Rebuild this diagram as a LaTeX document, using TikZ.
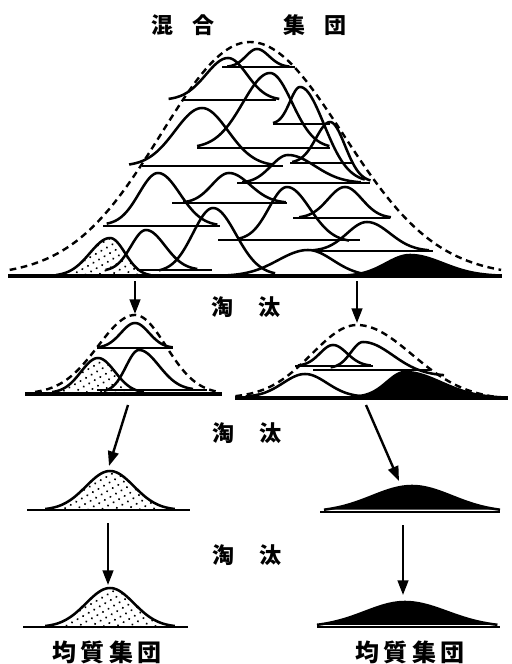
\documentclass[tikz,border=0pt]{standalone}
\usepackage{fontspec}
\newfontfamily\jpfont{Noto Sans CJK JP}
\usetikzlibrary{arrows.meta,patterns.meta}

% bell curve: [style]{centre}{peak}{left base}{left sigma}{right base}{right sigma}
\newcommand{\bellcurve}[7][curve]{%
  \path[#1] plot[smooth, domain={#2-\spread*#5}:#2]
      (\x,{#4-(#4-#3)*exp(-0.5*((\x-#2)/#5)*((\x-#2)/#5))})
    -- plot[smooth, domain=#2:{#2+\spread*#7}]
      (\x,{#6-(#6-#3)*exp(-0.5*((\x-#2)/#7)*((\x-#2)/#7))});}

\begin{document}
\begin{tikzpicture}[x=0.75pt, y=-0.75pt, samples=40,
    curve/.style={draw, line width=1.9pt, line join=round},
    envelope/.style={draw, line width=1.8pt, dash pattern=on 5pt off 3.5pt},
    dots fill/.style={curve, pattern={Dots[distance=4.8pt, radius=0.85pt, angle=30]}},
    ink fill/.style={curve, fill=black},
    foot/.style={line width=1.9pt},
    ground/.style={line width=2.4pt},
    flow/.style={line width=1.8pt, -{Triangle[length=11pt, width=8pt]}},
    jptext/.style={font=\jpfont\bfseries\fontsize{16.5pt}{18pt}\selectfont},
    jpbig/.style={font=\jpfont\bfseries\fontsize{18pt}{20pt}\selectfont}]

    \useasboundingbox (0,0) rectangle (511,664);
    \def\spread{2.7}

    % Titles and labels
    \node[jptext] (mixword) at (183,25) {混\hspace{0.82em}合};
    \node[jptext] (groupword) at (315,25) {集\hspace{0.82em}団};
    \node[jptext] (cullone) at (246,307) {淘\hspace{1.1em}汰};
    \node[jptext] (culltwo) at (247,433) {淘\hspace{1.1em}汰};
    \node[jptext] (cullthree) at (247,555) {淘\hspace{1.1em}汰};
    \node[jpbig] (pureleft) at (107,652) {均\hspace{0.18em}質\hspace{0.18em}集\hspace{0.18em}団};
    \node[jpbig] (pureright) at (410,652) {均\hspace{0.18em}質\hspace{0.18em}集\hspace{0.18em}団};

    % Mixed population: filled groups
    \bellcurve[dots fill]{110}{238}{276}{20}{276}{15}
    \bellcurve[ink fill]{410}{255}{276}{24}{276}{33}

    % Mixed population: other groups
    \foreach \cx/\pk/\lb/\ls/\rb/\rs in {257/49/67/11/67/12, 228/58/100/22/100/19,
        270/73/148/27/148/22, 300/87/124/10/182/24, 202/108/166/27/166/26,
        330/122/163/14/182/15, 288/155/183/17/183/27, 229/173/203/17/203/21,
        158/173/225/19/226/22, 213/208/272/20/275/23, 287/187/240/18/242/23,
        345/187/218/17/218/17, 367/222/251/20/251/23, 146/230/271/15/270/19,
        308/250/276/30/276/25}
      {\bellcurve{\cx}{\pk}{\lb}{\ls}{\rb}{\rs}}

    % Base lines of the groups
    \foreach \y/\xa/\xb in {67/222/295, 100/183/276, 124/273/330, 148/197/330,
        163/290/353, 166/142/283, 183/237/370, 203/172/287, 218/293/390,
        226/103/220, 240/218/360, 251/313/433, 270/137/212}
      \draw[foot] (\xa,\y) -- (\xb,\y);

    % Envelope and ground
    \bellcurve[envelope]{250}{42}{276}{89}{276}{93}
    \draw[ground] (8,276) -- (502,276);

    % First selection, left
    \bellcurve[dots fill]{98}{358}{393}{17}{393}{17}
    \bellcurve{135}{323}{348}{14}{348}{14}
    \bellcurve{139}{350}{392}{13}{390}{20}
    \draw[foot] (97,348) -- (173,348);
    \draw[foot] (97,390) -- (207,390);
    \bellcurve[envelope]{135}{315}{394}{37}{394}{31}
    \draw[ground] (25,394) -- (222,394);

    % First selection, right
    \bellcurve[ink fill]{405}{372}{397}{18}{398}{36}
    \bellcurve{333}{345}{366}{13}{366}{14}
    \bellcurve{363}{342}{368}{12}{376}{30}
    \bellcurve{305}{374}{397}{22}{397}{22}
    \draw[foot] (295,366) -- (373,366);
    \draw[foot] (313,370) -- (430,370);
    \bellcurve[envelope]{357}{325}{398}{45}{400}{55}
    \draw[ground] (235,398) -- (508,398);

    % Second and third selection
    \bellcurve[dots fill]{110}{471}{510}{24}{510}{24}
    \draw[foot] (27,510) -- (190,510);
    \bellcurve[dots fill]{110}{588}{627}{24}{627}{24}
    \draw[foot] (23,627) -- (188,627);
    {\def\spread{2.2}
    \bellcurve[ink fill]{412}{486}{512}{40}{512}{40}
    \bellcurve[ink fill]{405}{602}{627}{40}{627}{42}}
    \draw[foot] (320,512) -- (500,512);
    \draw[foot] (317,627) -- (500,627);

    % Arrow end points
    \coordinate (mixL) at (135,281);
    \coordinate (mixR) at (357,281);
    \coordinate (oneL) at (135,314);
    \coordinate (oneR) at (357,323);
    \coordinate (oneLout) at (128,405);
    \coordinate (oneRout) at (366,405);
    \coordinate (twoL) at (109,466);
    \coordinate (twoR) at (399,481);
    \coordinate (twoLout) at (108,523);
    \coordinate (twoRout) at (403,525);
    \coordinate (threeL) at (108,585);
    \coordinate (threeR) at (403,595);

    % Draw selection arrows
    \draw[flow] (mixL) -- (oneL);
    \draw[flow] (mixR) -- (oneR);
    \draw[flow] (oneLout) -- (twoL);
    \draw[flow] (oneRout) -- (twoR);
    \draw[flow] (twoLout) -- (threeL);
    \draw[flow] (twoRout) -- (threeR);

\end{tikzpicture}
\end{document}
